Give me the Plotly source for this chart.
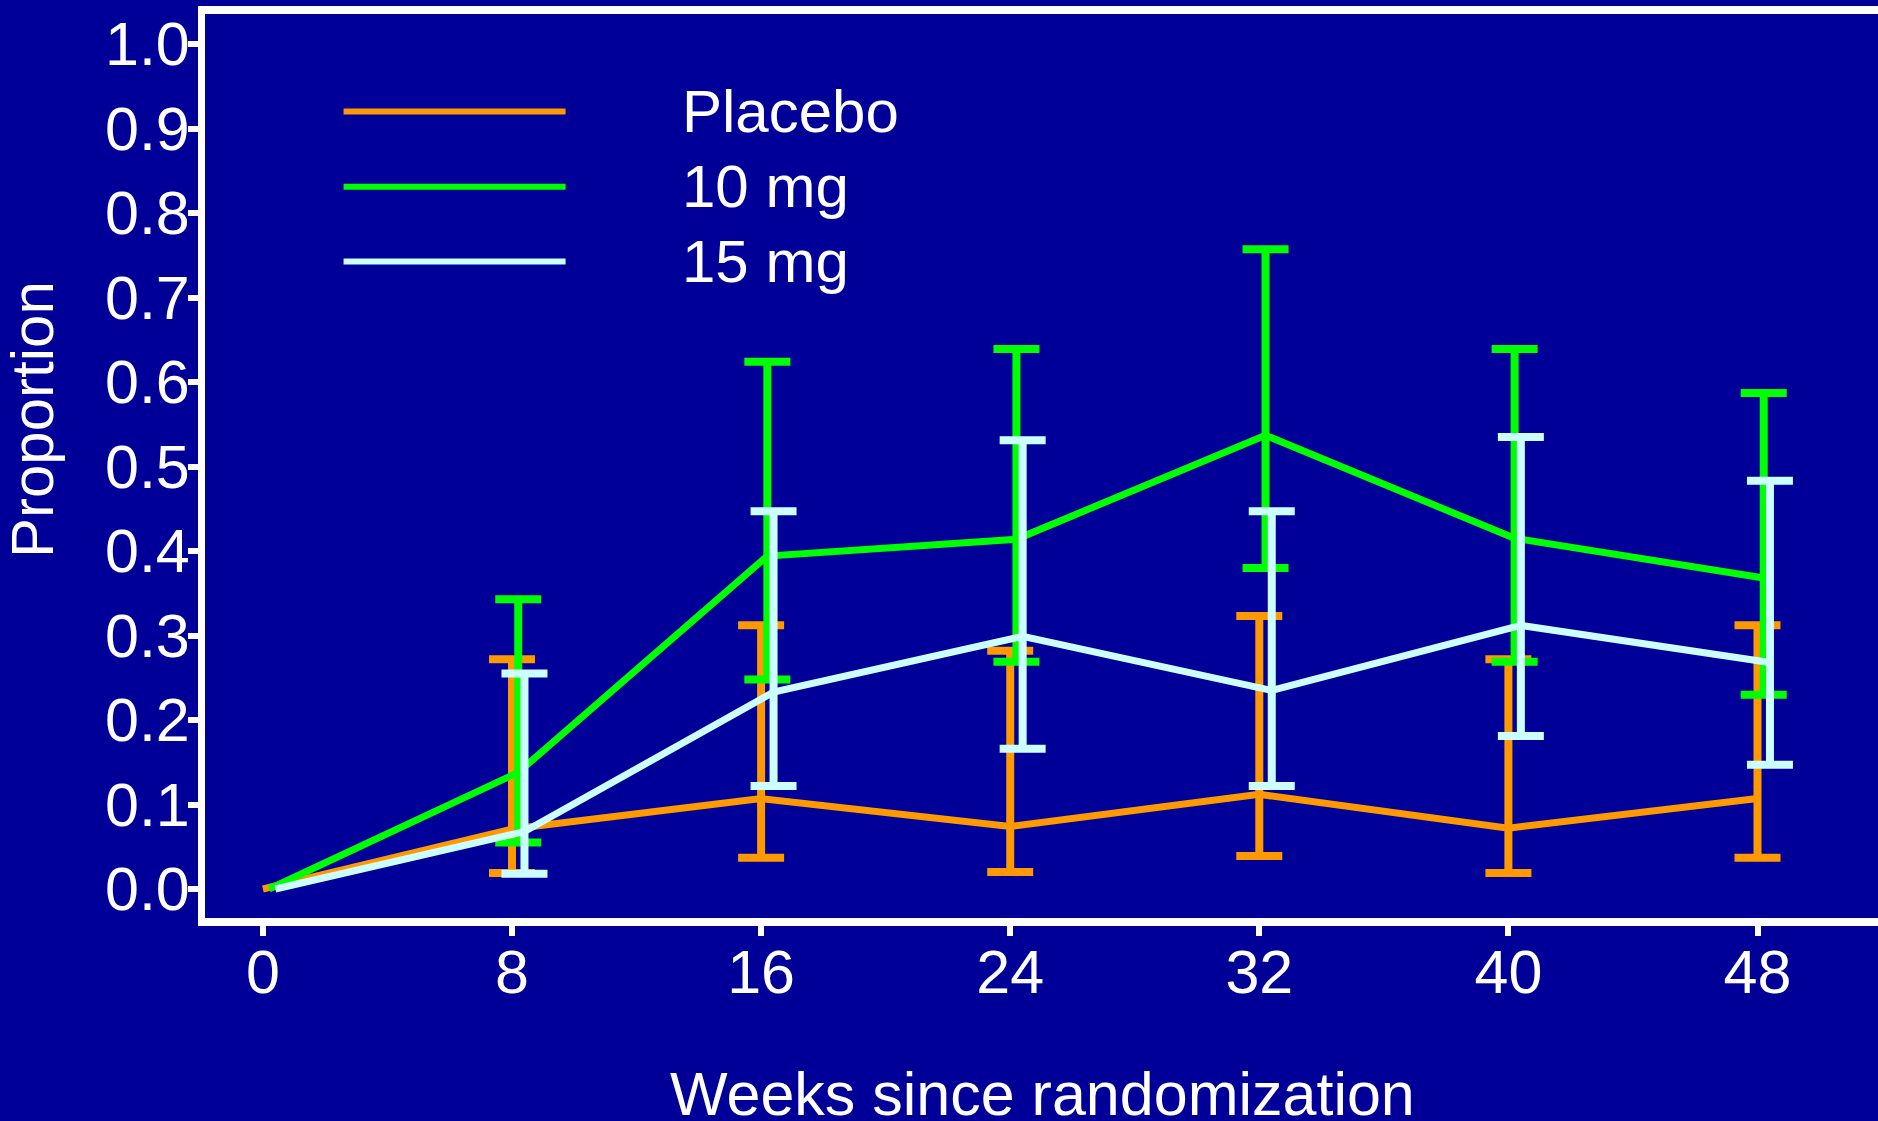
import plotly.graph_objects as go

# Weeks since randomization
weeks = [0, 8, 16, 24, 32, 40, 48]
x_ticks = [0, 8, 16, 24, 32, 40, 48]
y_ticks = [0.0, 0.1, 0.2, 0.3, 0.4, 0.5, 0.6, 0.7, 0.8, 0.9, 1.0]
y_tick_labels = ["0.0", "0.1", "0.2", "0.3", "0.4", "0.5", "0.6", "0.7", "0.8", "0.9", "1.0"]

groups = ["Placebo", "10 mg", "15 mg"]

# Estimated proportions with 95% confidence limits (no interval at baseline)
placebo_est = [0.0, 0.071, 0.107, 0.074, 0.112, 0.072, 0.107]
placebo_lo = [None, 0.019, 0.037, 0.020, 0.039, 0.019, 0.037]
placebo_hi = [None, 0.272, 0.312, 0.282, 0.323, 0.272, 0.312]

mg10_est = [0.0, 0.138, 0.394, 0.414, 0.537, 0.415, 0.368]
mg10_lo = [None, 0.055, 0.248, 0.269, 0.380, 0.269, 0.230]
mg10_hi = [None, 0.343, 0.624, 0.639, 0.757, 0.639, 0.587]

mg15_est = [0.0, 0.068, 0.233, 0.299, 0.235, 0.312, 0.268]
mg15_lo = [None, 0.018, 0.122, 0.166, 0.122, 0.181, 0.147]
mg15_hi = [None, 0.255, 0.447, 0.531, 0.447, 0.535, 0.483]

series = [
    (placebo_est, placebo_lo, placebo_hi),
    (mg10_est, mg10_lo, mg10_hi),
    (mg15_est, mg15_lo, mg15_hi),
]

# Styling
BG = "#000099"
FG = "#FFFFFF"
colors = ["#FF9900", "#00FF00", "#CCFFFF"]
dodge = [0.0, 0.2, 0.4]          # horizontal shift so the intervals do not overlap
FONT = "Liberation Sans, Arial, sans-serif"

W, H = 1878, 1121
M_L, M_R, M_T, M_B = 205, 0, 14, 203
PLOT_W = W - M_L - M_R
PLOT_H = H - M_T - M_B


def paper_x(px):
    return (px - M_L) / PLOT_W


def paper_y(py):
    return (H - M_B - py) / PLOT_H


fig = go.Figure()

for name, (est, lo, hi), col, dx in zip(groups, series, colors, dodge):
    xs = [w + dx for w in weeks]
    # connecting line through the estimates
    fig.add_trace(go.Scatter(
        x=xs, y=est, mode="lines", name=name,
        line=dict(color=col, width=7),
        showlegend=False, hoverinfo="skip",
    ))
    # confidence intervals only where limits exist
    idx = [i for i in range(len(weeks)) if lo[i] is not None]
    fig.add_trace(go.Scatter(
        x=[xs[i] for i in idx], y=[est[i] for i in idx], mode="markers",
        marker=dict(size=0.1, color=col, opacity=0),
        error_y=dict(type="data", symmetric=False,
                     array=[hi[i] - est[i] for i in idx],
                     arrayminus=[est[i] - lo[i] for i in idx],
                     color=col, thickness=8, width=23),
        showlegend=False, hoverinfo="skip",
    ))

# Legend drawn as line samples with labels
leg_y = [0.920, 0.831, 0.7426]
for name, col, yy in zip(groups, colors, leg_y):
    fig.add_shape(type="line", xref="x", yref="y",
                  x0=2.59, x1=9.72, y0=yy, y1=yy,
                  line=dict(color=col, width=6))
    fig.add_annotation(x=13.38, y=yy, xref="x", yref="y", text=name,
                       showarrow=False, xanchor="left", yanchor="middle",
                       font=dict(family=FONT, size=60, color=FG))

# Axis titles
fig.add_annotation(x=paper_x(1042), y=paper_y(1094), xref="paper", yref="paper",
                   text="Weeks since randomization", showarrow=False,
                   xanchor="center", yanchor="middle",
                   font=dict(family=FONT, size=61, color=FG))
fig.add_annotation(x=paper_x(32), y=paper_y(420), xref="paper", yref="paper",
                   text="Proportion", showarrow=False, textangle=-90,
                   xanchor="center", yanchor="middle",
                   font=dict(family=FONT, size=60, color=FG))

fig.update_layout(
    width=W, height=H,
    margin=dict(l=M_L, r=M_R, t=M_T, b=M_B, autoexpand=False),
    paper_bgcolor=BG, plot_bgcolor=BG,
    showlegend=False,
    font=dict(family=FONT, color=FG),
)

fig.update_xaxes(
    range=[-1.86, 51.87], tickvals=x_ticks, ticktext=[str(t) for t in x_ticks],
    showgrid=False, zeroline=False,
    showline=True, linecolor=FG, linewidth=8, mirror=True,
    ticks="outside", ticklen=10, tickwidth=6, tickcolor=FG,
    tickfont=dict(family=FONT, size=61, color=FG),
    ticklabelstandoff=-16,
)
fig.update_yaxes(
    range=[-0.0343, 1.0355], tickvals=y_ticks, ticktext=y_tick_labels,
    showgrid=False, zeroline=False,
    showline=True, linecolor=FG, linewidth=7,
    ticks="outside", ticklen=10, tickwidth=6, tickcolor=FG,
    tickfont=dict(family=FONT, size=61, color=FG),
    ticklabelstandoff=-14,
)

fig.write_html("out.html")
